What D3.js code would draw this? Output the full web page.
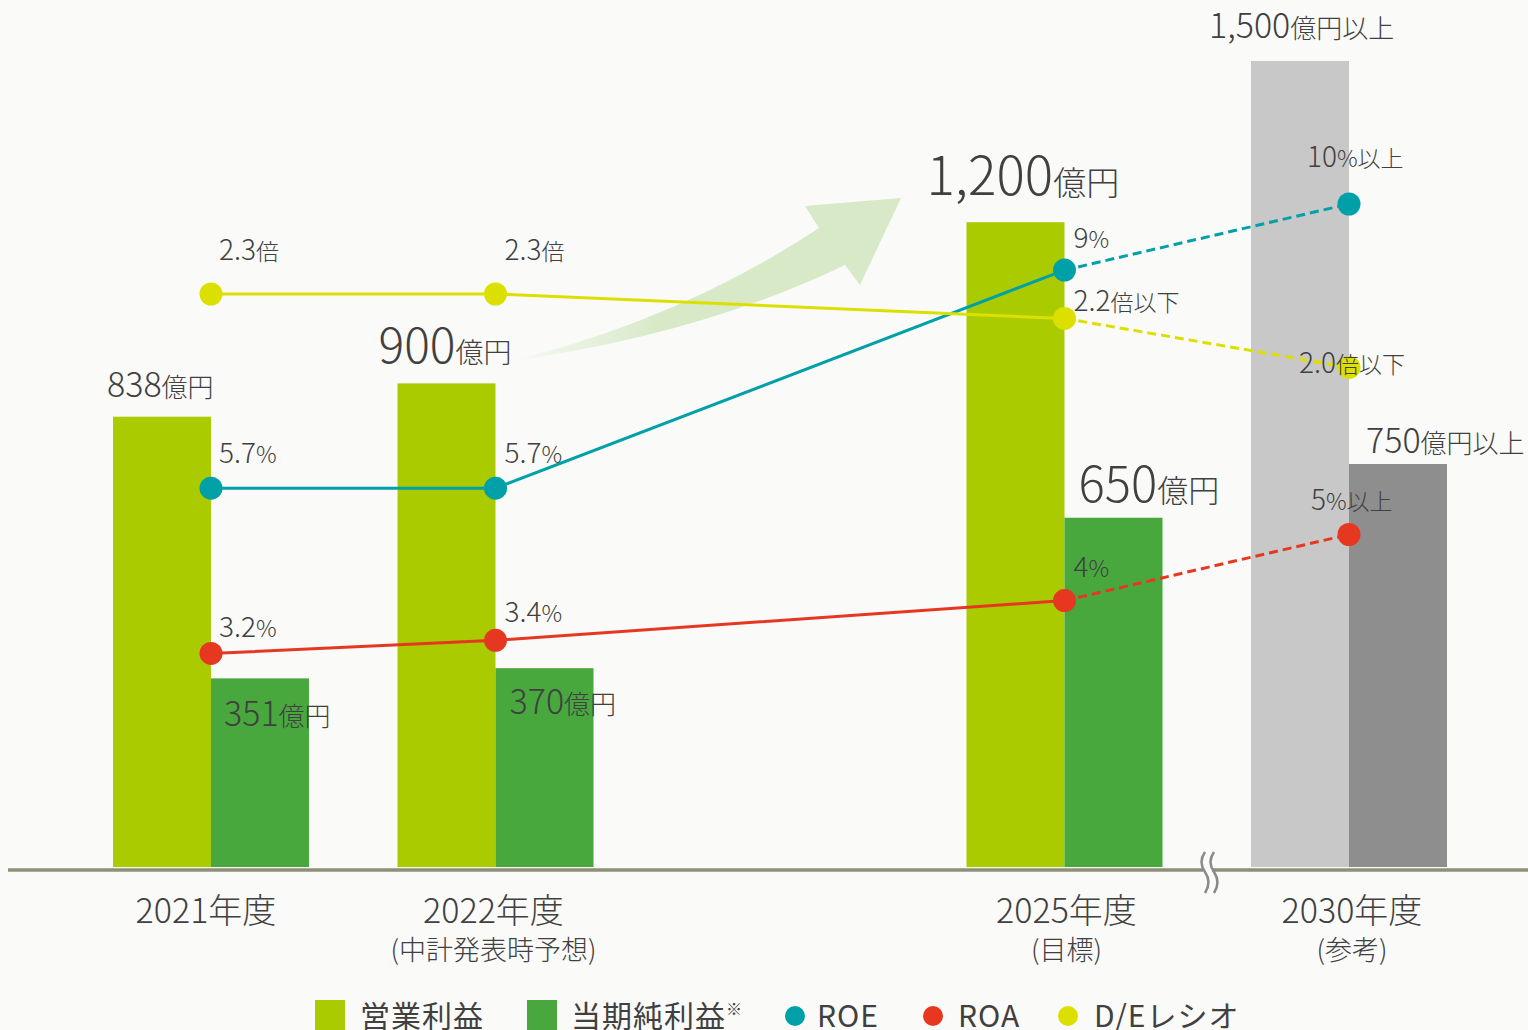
<!DOCTYPE html>
<html>
<head>
<meta charset="utf-8">
<script src="https://cdn.jsdelivr.net/npm/d3@7"></script>
<style>
  html, body { margin: 0; padding: 0; background: #fafaf8; }
  svg { display: block; font-family: "Noto Sans CJK JP", "Noto Sans", sans-serif; }
</style>
</head>
<body>
<svg id="chart" width="1528" height="1030"></svg>
<script>
// ---- data ----
const years = ['2021年度', '2022年度', '2025年度', '2030年度'];
const yearNotes = ['', '(中計発表時予想)', '(目標)', '(参考)'];
const slots = [0, 1, 3, 4];
const operatingProfit = [838, 900, 1200, 1500];
const netProfit = [351, 370, 650, 750];
const profitSuffix = ['', '', '', '以上'];
const roe = [5.7, 5.7, 9, 10];
const roa = [3.2, 3.4, 4, 5];
const deRatio = [2.3, 2.3, 2.2, 2.0];
const pctSuffix = ['', '', '', '以上'];
const deSuffix = ['', '', '以下', '以下'];
const legendItems = ['営業利益', '当期純利益', 'ROE', 'ROA', 'D/Eレシオ'];

// ---- styles / layout tweaks ----
const colors = {
  op: '#aacb00', net: '#48a83e', op2030: '#c8c8c8', net2030: '#8e8e8e',
  roe: '#00a0a8', roa: '#e63820', de: '#dce000', text: '#404040', base: '#8e8f78'
};
// label layout: [dx from bar left, dy from bar top, number size, unit size]
const opLabelLayout = [[-6, -20, 34, 26], [-19, -20, 48, 28], [-40, -27, 53, 33], [-42, -23, 34, 26]];
const netLabelLayout = [[13, 48, 34, 26], [14, 46, 34, 26], [14, -16, 49, 31], [17, -11, 34, 26]];
// point label offsets [dx, dy] from the dot
const roeOffsets = [[8, -25], [9, -25], [9, -22], [-42, -37]];
const roaOffsets = [[8, -16], [9, -18], [9, -24], [-38, -25]];
const deOffsets = [[8, -34], [9, -34], [9, -7], [-50, 6]];
const yearDx = [-5, -2, 2, 3];

const svg = d3.select('#chart');
const barW = 98;

const x = d3.scaleLinear().domain([0, 4]).range([211, 1349]);
const yBar = d3.scaleLinear().domain([0, 1500]).range([867, 61]);
const yPct = d3.scaleLinear().domain([0, 10]).range([865, 204]);
const yDE = d3.scaleLinear().domain([0, 2.3]).range([857, 294]);

const rows = years.map((y, i) => ({
  i, year: y, note: yearNotes[i], slot: slots[i],
  op: operatingProfit[i], net: netProfit[i], suffix: profitSuffix[i],
  roe: roe[i], roa: roa[i], de: deRatio[i], pSuf: pctSuffix[i], dSuf: deSuffix[i]
}));

// ---- bars ----
const bars = svg.append('g');
bars.selectAll('rect.op')
  .data(rows)
  .enter()
  .append('rect')
  .attr('class', 'op')
  .attr('x', d => x(d.slot) - barW)
  .attr('y', d => yBar(d.op))
  .attr('width', barW)
  .attr('height', d => yBar(0) - yBar(d.op))
  .attr('fill', d => (d.i === 3 ? colors.op2030 : colors.op));
bars.selectAll('rect.net')
  .data(rows)
  .enter()
  .append('rect')
  .attr('class', 'net')
  .attr('x', d => x(d.slot))
  .attr('y', d => yBar(d.net))
  .attr('width', barW)
  .attr('height', d => yBar(0) - yBar(d.net))
  .attr('fill', d => (d.i === 3 ? colors.net2030 : colors.net));

// ---- baseline + break mark ----
svg.append('line')
  .attr('x1', 8).attr('x2', 1528)
  .attr('y1', 870).attr('y2', 870)
  .attr('stroke', colors.base)
  .attr('stroke-width', 3.5);
svg.append('rect')
  .attr('x', 1203).attr('y', 866).attr('width', 9).attr('height', 8)
  .attr('fill', '#fafaf8');
[1203, 1212].forEach((bx) => {
  svg.append('path')
    .attr('d', `M${bx + 2},852 q-7,10 0,20 t0,21`)
    .attr('fill', 'none')
    .attr('stroke', '#8a8a8a')
    .attr('stroke-width', 2.5);
});

// ---- arrow ----
const defs = svg.append('defs');
const grad = defs.append('linearGradient')
  .attr('id', 'arrowGrad')
  .attr('gradientUnits', 'userSpaceOnUse')
  .attr('x1', 507).attr('y1', 0).attr('x2', 660).attr('y2', 0);
grad.append('stop').attr('offset', 0).attr('stop-color', '#d7e9c7').attr('stop-opacity', 0);
grad.append('stop').attr('offset', 1).attr('stop-color', '#d7e9c7').attr('stop-opacity', 1);
svg.append('path')
  .attr('d', 'M507,362 Q680,320 819,228 L805,206 L901,198 L860,285 L845,265 Q700,335 507,362 Z')
  .attr('fill', 'url(#arrowGrad)');

// ---- lines ----
function drawSeries(key, scale, color) {
  const pts = rows.map(d => [x(d.slot), scale(d[key])]);
  const line = d3.line();
  svg.append('path')
    .attr('d', line(pts.slice(0, 3)))
    .attr('fill', 'none')
    .attr('stroke', color)
    .attr('stroke-width', 3);
  svg.append('path')
    .attr('d', line(pts.slice(2)))
    .attr('fill', 'none')
    .attr('stroke', color)
    .attr('stroke-width', 3)
    .attr('stroke-dasharray', '9,5');
  return pts;
}
const roePts = drawSeries('roe', yPct, colors.roe);
const roaPts = drawSeries('roa', yPct, colors.roa);
const dePts = drawSeries('de', yDE, colors.de);

[[roePts, colors.roe], [roaPts, colors.roa], [dePts, colors.de]].forEach(([pts, c]) => {
  svg.append('g')
    .selectAll('circle')
    .data(pts)
    .enter()
    .append('circle')
    .attr('cx', d => d[0])
    .attr('cy', d => d[1])
    .attr('r', 11.5)
    .attr('fill', c);
});

// ---- labels ----
const labels = svg.append('g').attr('fill', colors.text);

function valueLabel(px, py, num, unit, numSize, unitSize) {
  const t = labels.append('text')
    .attr('x', px)
    .attr('y', py)
    .style('font-weight', 300);
  t.append('tspan').style('font-size', `${numSize}px`).text(num);
  t.append('tspan').style('font-size', `${unitSize}px`).text(unit);
}

rows.forEach((d) => {
  const [odx, ody, ons, ous] = opLabelLayout[d.i];
  valueLabel(x(d.slot) - barW + odx, yBar(d.op) + ody, d3.format(',')(d.op), `億円${d.suffix}`, ons, ous);
  const [ndx, ndy, nns, nus] = netLabelLayout[d.i];
  valueLabel(x(d.slot) + ndx, yBar(d.net) + ndy, d3.format(',')(d.net), `億円${d.suffix}`, nns, nus);
});

rows.forEach((d) => {
  valueLabel(roePts[d.i][0] + roeOffsets[d.i][0], roePts[d.i][1] + roeOffsets[d.i][1], String(d.roe), `%${d.pSuf}`, 28, 23);
  valueLabel(roaPts[d.i][0] + roaOffsets[d.i][0], roaPts[d.i][1] + roaOffsets[d.i][1], String(d.roa), `%${d.pSuf}`, 28, 23);
  valueLabel(dePts[d.i][0] + deOffsets[d.i][0], dePts[d.i][1] + deOffsets[d.i][1], d3.format('.1f')(d.de), `倍${d.dSuf}`, 28, 23);
});

// ---- category axis labels ----
labels.selectAll('text.year')
  .data(rows)
  .enter()
  .append('text')
  .attr('class', 'year')
  .attr('x', d => x(d.slot) + yearDx[d.i])
  .attr('y', 923)
  .attr('text-anchor', 'middle')
  .style('font-size', '34px')
  .style('font-weight', 300)
  .text(d => d.year);
labels.selectAll('text.note')
  .data(rows.filter(d => d.note))
  .enter()
  .append('text')
  .attr('class', 'note')
  .attr('x', d => x(d.slot) + yearDx[d.i])
  .attr('y', 960)
  .attr('text-anchor', 'middle')
  .style('font-size', '27px')
  .style('font-weight', 300)
  .text(d => d.note);

// ---- legend ----
const legend = svg.append('g');
const legendX = [315, 527, 795, 933, 1068];
const legendTextX = [360, 571, 817, 958, 1094];
const legendColors = [colors.op, colors.net, colors.roe, colors.roa, colors.de];
legendItems.forEach((name, i) => {
  if (i < 2) {
    legend.append('rect')
      .attr('x', legendX[i]).attr('y', 1000)
      .attr('width', 30).attr('height', 30)
      .attr('fill', legendColors[i]);
  } else {
    legend.append('circle')
      .attr('cx', legendX[i]).attr('cy', 1016)
      .attr('r', 10)
      .attr('fill', legendColors[i]);
  }
  const t = legend.append('text')
    .attr('x', legendTextX[i])
    .attr('y', 1027)
    .attr('fill', colors.text)
    .style('font-size', '30px')
    .style('letter-spacing', '1px')
    .text(name);
  if (i === 1) {
    t.append('tspan').attr('dy', -12).style('font-size', '16px').text('※');
  }
});
</script>
</body>
</html>
